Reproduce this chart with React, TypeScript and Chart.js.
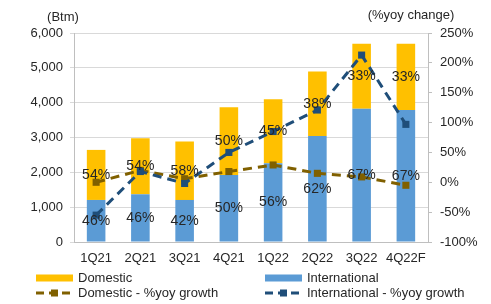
import React, { useEffect, useRef } from "react";
import { Chart, registerables } from "chart.js";

Chart.register(...registerables);

const categories = ["1Q21", "2Q21", "3Q21", "4Q21", "1Q22", "2Q22", "3Q22", "4Q22F"];
const international = [1207, 1370, 1207, 1925, 2261, 3046, 3822, 3793];
const domestic = [1437, 1610, 1675, 1945, 1839, 1848, 1868, 1897];
const domesticShare = [54, 54, 58, 50, 45, 38, 33, 33];
const internationalShare = [46, 46, 42, 50, 56, 62, 67, 67];
const domesticYoy = [0, 20, 6, 18, 29, 15, 9, -5];
const internationalYoy = [-55, 18, -2, 50, 85, 121, 213, 97];
const leftTicks = [0, 1000, 2000, 3000, 4000, 5000, 6000];
const rightTicks = [-100, -50, 0, 50, 100, 150, 200, 250];

const FONT = "'Liberation Sans', Arial, sans-serif";
const TEXT = "#262626";
const C_DOM = "#FFC000";
const C_INT = "#5B9BD5";
const C_DOM_L = "#806000";
const C_INT_L = "#1F4E79";

const overlayPlugin = {
  id: "overlay",
  afterDatasetsDraw(chart: any) {
    const ctx = chart.ctx;
    ctx.save();
    ctx.font = `14px ${FONT}`;
    ctx.fillStyle = TEXT;
    ctx.textAlign = "center";
    ctx.textBaseline = "middle";
    const draw = (dsIndex: number, labels: number[]) => {
      const meta = chart.getDatasetMeta(dsIndex);
      meta.data.forEach((el: any, i: number) => {
        const cy = (el.y + el.base) / 2;
        ctx.fillText(labels[i] + "%", el.x, cy);
      });
    };
    draw(2, internationalShare);
    draw(3, domesticShare);
    ctx.restore();
  },
  afterDraw(chart: any) {
    const ctx = chart.ctx;
    ctx.save();
    ctx.font = `13px ${FONT}`;
    ctx.fillStyle = TEXT;
    ctx.textBaseline = "middle";
    ctx.textAlign = "center";
    ctx.fillText("(Btm)", 63, 17);
    ctx.fillText("(%yoy change)", 411, 15);
    ctx.textAlign = "left";
    const rows = [
      { x: 36, y: 278, type: "bar", color: C_DOM, text: "Domestic" },
      { x: 265, y: 278, type: "bar", color: C_INT, text: "International" },
      { x: 36, y: 293, type: "line", color: C_DOM_L, text: "Domestic - %yoy growth" },
      { x: 265, y: 293, type: "line", color: C_INT_L, text: "International - %yoy growth" },
    ];
    rows.forEach((r) => {
      const w = 37;
      if (r.type === "bar") {
        ctx.fillStyle = r.color;
        ctx.fillRect(r.x, r.y - 3.5, w, 7);
      } else {
        ctx.strokeStyle = r.color;
        ctx.lineWidth = 3;
        ctx.setLineDash([8, 5]);
        ctx.beginPath();
        ctx.moveTo(r.x, r.y);
        ctx.lineTo(r.x + w, r.y);
        ctx.stroke();
        ctx.setLineDash([]);
        ctx.fillStyle = r.color;
        ctx.fillRect(r.x + w / 2 - 3.5, r.y - 3.5, 7, 7);
      }
      ctx.fillStyle = TEXT;
      ctx.fillText(r.text, r.x + w + 5, r.y);
    });
    ctx.restore();
  },
};

export default function App() {
  const ref = useRef<HTMLCanvasElement | null>(null);
  useEffect(() => {
    if (!ref.current) return;
    const chart = new Chart(ref.current, {
      type: "bar",
      data: {
        labels: categories,
        datasets: [
          {
            type: "line",
            label: "International - %yoy growth",
            data: internationalYoy,
            yAxisID: "y1",
            borderColor: C_INT_L,
            backgroundColor: C_INT_L,
            borderWidth: 3,
            borderDash: [9, 6],
            pointStyle: "rect",
            pointRadius: 5,
            pointBorderWidth: 0,
            tension: 0,
            order: 0,
          } as any,
          {
            type: "line",
            label: "Domestic - %yoy growth",
            data: domesticYoy,
            yAxisID: "y1",
            borderColor: C_DOM_L,
            backgroundColor: C_DOM_L,
            borderWidth: 3,
            borderDash: [9, 6],
            pointStyle: "rect",
            pointRadius: 5,
            pointBorderWidth: 0,
            tension: 0,
            order: 0,
          } as any,
          {
            label: "International",
            data: international,
            backgroundColor: C_INT,
            stack: "s",
            yAxisID: "y",
            categoryPercentage: 1,
            barPercentage: 0.42,
            order: 1,
          },
          {
            label: "Domestic",
            data: domestic,
            backgroundColor: C_DOM,
            stack: "s",
            yAxisID: "y",
            categoryPercentage: 1,
            barPercentage: 0.42,
            order: 1,
          },
        ],
      },
      options: {
        responsive: false,
        animation: false,
        layout: { padding: { top: 33, left: 0, right: 0, bottom: 0 } },
        plugins: { legend: { display: false }, tooltip: { enabled: false } },
        scales: {
          x: {
            stacked: true,
            grid: { display: false, drawTicks: false },
            border: { display: true, color: "#BFBFBF", width: 1 },
            ticks: { font: { family: FONT, size: 13 }, color: TEXT, padding: 9, maxRotation: 0 },
            afterFit: (s: any) => { s.height = 62; },
          },
          y: {
            position: "left",
            stacked: true,
            min: 0,
            max: 6000,
            afterBuildTicks: (s: any) => { s.ticks = leftTicks.map((v) => ({ value: v })); },
            grid: { color: "#D9D9D9", tickLength: 4, lineWidth: 1 },
            border: { display: true, color: "#BFBFBF" },
            ticks: {
              font: { family: FONT, size: 13 },
              color: TEXT,
              padding: 7,
              callback: (v: any) => Number(v).toLocaleString("en-US"),
            },
            afterFit: (s: any) => { s.width = 74; },
          },
          y1: {
            position: "right",
            min: -100,
            max: 250,
            afterBuildTicks: (s: any) => { s.ticks = rightTicks.map((v) => ({ value: v })); },
            grid: { drawOnChartArea: false, color: "#BFBFBF", tickLength: 4 },
            border: { display: true, color: "#BFBFBF" },
            ticks: {
              font: { family: FONT, size: 13 },
              color: TEXT,
              padding: 8,
              callback: (v: any) => v + "%",
            },
            afterFit: (s: any) => { s.width = 63; },
          },
        },
      },
      plugins: [overlayPlugin],
    });
    return () => chart.destroy();
  }, []);
  return (
    <div style={{ position: "fixed", left: 0, top: 0, width: 491, height: 304, background: "#fff" }}>
      <canvas ref={ref} width={491} height={304} style={{ width: 491, height: 304 }} />
    </div>
  );
}
